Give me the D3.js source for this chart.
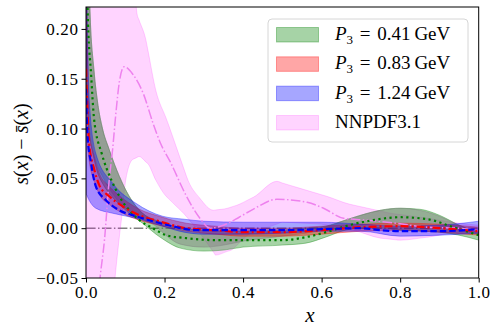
<!DOCTYPE html>
<html>
<head>
<meta charset="utf-8">
<script src="https://cdn.jsdelivr.net/npm/d3@7"></script>
<style>
  body { margin: 0; background: #fff; }
  svg text { font-family: "Liberation Serif", "Times New Roman", serif; fill: #000; }
</style>
</head>
<body>
<div id="chart"></div>
<script>
// P3 = 0.41 GeV (green)
var greenX     = [0, 0.004, 0.013, 0.021, 0.04, 0.065, 0.085, 0.11, 0.136, 0.17, 0.204, 0.255, 0.33, 0.4, 0.5, 0.56, 0.62, 0.67, 0.73, 0.8, 0.87, 0.935, 1.0];
var greenMid   = [0.30, 0.22, 0.154, 0.108, 0.075, 0.048, 0.032, 0.018, 0.008, 0.0, -0.007, -0.010, -0.012, -0.012, -0.012, -0.009, -0.003, 0.003, 0.008, 0.011, 0.009, 0.001, -0.007];
var greenBandX = [0, 0.01, 0.02, 0.03, 0.042, 0.059, 0.085, 0.11, 0.144, 0.178, 0.2, 0.24, 0.3, 0.35, 0.4, 0.5, 0.56, 0.61, 0.66, 0.7, 0.75, 0.8, 0.85, 0.9, 0.95, 1.0];
var greenHi    = [0.40, 0.22, 0.16, 0.125, 0.10, 0.079, 0.052, 0.032, 0.015, 0.008, 0.005, 0.0, -0.002, -0.003, -0.003, -0.002, 0.0, 0.002, 0.008, 0.013, 0.018, 0.020, 0.019, 0.013, 0.003, -0.005];
var greenLo    = [0.12, 0.09, 0.07, 0.055, 0.045, 0.035, 0.024, 0.015, 0.005, -0.006, -0.012, -0.020, -0.023, -0.022, -0.019, -0.017, -0.015, -0.009, -0.002, 0.0, 0.0, -0.002, -0.003, -0.004, -0.007, -0.012];
var grayHi     = [0.40, 0.22, 0.16, 0.125, 0.10, 0.079, 0.052, 0.032, 0.015, 0.007, 0.002, -0.003, -0.006, -0.006, -0.005, -0.004, -0.002, 0.001, 0.008, 0.013, 0.018, 0.020, 0.018, 0.012, 0.003, -0.004];
var grayLo     = [0.15, 0.10, 0.075, 0.062, 0.052, 0.040, 0.026, 0.017, 0.009, 0.002, -0.006, -0.016, -0.019, -0.017, -0.013, -0.008, -0.005, -0.002, 0.001, 0.003, 0.004, 0.004, 0.003, 0.0, -0.002, -0.006];

// P3 = 0.83 GeV (red)
var redX     = [0, 0.008, 0.021, 0.034, 0.059, 0.093, 0.136, 0.186, 0.255, 0.33, 0.4, 0.5, 0.6, 0.7, 0.8, 0.9, 1.0];
var redMid   = [0.16, 0.085, 0.059, 0.043, 0.032, 0.022, 0.013, 0.007, 0.0, -0.002, -0.004, -0.004, -0.002, 0.001, 0.002, 0.0, -0.003];
var redHi    = [0.30, 0.10, 0.072, 0.055, 0.042, 0.030, 0.019, 0.012, 0.005, 0.002, 0.0, 0.0, 0.002, 0.004, 0.005, 0.004, 0.001];
var redLo    = [0.10, 0.068, 0.047, 0.034, 0.024, 0.015, 0.008, 0.003, -0.003, -0.006, -0.008, -0.008, -0.006, -0.003, -0.002, -0.004, -0.007];

// P3 = 1.24 GeV (blue)
var blueX     = [0, 0.004, 0.013, 0.025, 0.051, 0.085, 0.127, 0.17, 0.22, 0.28, 0.4, 0.5, 0.6, 0.7, 0.75, 0.8, 0.9, 1.0];
var blueMid   = [0.14, 0.092, 0.065, 0.042, 0.028, 0.018, 0.012, 0.007, 0.002, -0.002, -0.002, -0.002, -0.001, 0.0, -0.002, -0.003, -0.003, -0.001];
var blueBandX = [0, 0.008, 0.025, 0.068, 0.127, 0.195, 0.25, 0.3, 0.4, 0.5, 0.6, 0.7, 0.8, 0.9, 1.0];
var blueHi    = [0.30, 0.13, 0.075, 0.045, 0.025, 0.012, 0.009, 0.007, 0.006, 0.006, 0.006, 0.004, 0.002, 0.003, 0.007];
var blueLo    = [0.035, 0.028, 0.020, 0.015, 0.010, 0.002, -0.004, -0.006, -0.006, -0.005, -0.003, -0.003, -0.008, -0.007, -0.005];

// NNPDF3.1 (violet)
var nnX      = [0.02, 0.036, 0.047, 0.059, 0.068, 0.076, 0.085, 0.097, 0.12, 0.146, 0.171, 0.19, 0.214, 0.256, 0.29, 0.316, 0.35, 0.39, 0.43, 0.486, 0.563, 0.605, 0.656, 0.715, 0.79, 0.868, 0.945, 1.0];
var nnMid    = [-0.12, -0.049, -0.012, 0.048, 0.08, 0.115, 0.147, 0.162, 0.154, 0.135, 0.105, 0.085, 0.067, 0.032, 0.01, 0.0, 0.003, 0.011, 0.02, 0.029, 0.026, 0.02, 0.010, 0.008, 0.005, 0.001, 0.0, -0.002];
var nnHiX    = [0, 0.12, 0.13, 0.153, 0.178, 0.21, 0.256, 0.29, 0.325, 0.36, 0.384, 0.426, 0.486, 0.545, 0.613, 0.672, 0.775, 0.868, 0.95, 1.0];
var nnHi     = [0.40, 0.26, 0.215, 0.188, 0.138, 0.104, 0.052, 0.03, 0.018, 0.02, 0.023, 0.031, 0.047, 0.040, 0.032, 0.024, 0.015, 0.010, 0.005, 0.003];
var nnLoX    = [0, 0.06, 0.074, 0.084, 0.093, 0.101, 0.119, 0.135, 0.157, 0.178, 0.204, 0.23, 0.255, 0.29, 0.33, 0.37, 0.42, 0.5, 0.6, 0.68, 0.75, 0.8, 0.87, 0.95, 1.0];
var nnLo     = [-0.30, -0.12, -0.05, -0.012, 0.018, 0.048, 0.069, 0.072, 0.065, 0.048, 0.032, 0.022, 0.012, -0.005, -0.027, -0.022, -0.005, 0.006, 0.004, -0.002, -0.010, -0.012, -0.009, -0.004, -0.004];

var xTicks = [0.0, 0.2, 0.4, 0.6, 0.8, 1.0];
var yTicks = [-0.05, 0.00, 0.05, 0.10, 0.15, 0.20];
var legendLabels = ['0.41', '0.83', '1.24'];

var W = 498, H = 334;
var serif = '"Liberation Serif", "Times New Roman", serif';
var svg = d3.select('#chart').append('svg').attr('width', W).attr('height', H);

var x = d3.scaleLinear().domain([0, 1]).range([86, 478.7]);
var y = d3.scaleLinear().domain([-0.05, 0.222]).range([278, 7]);

svg.append('clipPath').attr('id', 'plotclip')
  .append('rect').attr('x', 86).attr('y', 7).attr('width', 392.7).attr('height', 271);

var plot = svg.append('g').attr('clip-path', 'url(#plotclip)');

function zip(xs, a) { return xs.map(function (v, i) { return [v, a[i]]; }); }
function zip2(xs, a, b) { return xs.map(function (v, i) { return [v, a[i], b[i]]; }); }

function interpTo(xsSrc, ys, xsDst) {
  var f = d3.scaleLinear().domain(xsSrc).range(ys);
  return xsDst.map(function (v) { return f(v); });
}

var curve = d3.curveMonotoneX;
var area = d3.area().curve(curve)
  .x(function (d) { return x(d[0]); })
  .y0(function (d) { return y(d[1]); })
  .y1(function (d) { return y(d[2]); });
var line = d3.line().curve(curve)
  .x(function (d) { return x(d[0]); })
  .y(function (d) { return y(d[1]); });

// zero reference line
plot.append('line')
  .attr('x1', x(0)).attr('x2', x(1)).attr('y1', y(0)).attr('y2', y(0))
  .attr('stroke', '#808080').attr('stroke-width', 1.5)
  .attr('stroke-dasharray', '9.6,2.4,1.5,2.4');

function band(data, color, op) {
  plot.append('path').datum(data).attr('d', area)
    .attr('fill', color).attr('fill-opacity', op)
    .attr('stroke', color).attr('stroke-opacity', op).attr('stroke-width', 1);
}

// NNPDF band: upper and lower edges sampled on a common grid of their own points
var nnGrid = Array.from(new Set(nnHiX.concat(nnLoX))).sort(d3.ascending);
band(zip2(nnGrid, interpTo(nnLoX, nnLo, nnGrid), interpTo(nnHiX, nnHi, nnGrid)), '#ff00ff', 0.17);

band(zip2(greenBandX, greenLo, greenHi), '#008000', 0.35);
band(zip2(greenBandX, grayLo, grayHi), '#808080', 0.45);
band(zip2(redX, redLo, redHi), '#ff0000', 0.35);
band(zip2(blueBandX, blueLo, blueHi), '#0000ff', 0.35);

function curveLine(data, color, w, dash) {
  plot.append('path').datum(data).attr('d', line)
    .attr('fill', 'none').attr('stroke', color).attr('stroke-width', w)
    .attr('stroke-dasharray', dash);
}
curveLine(zip(nnX, nnMid), '#ee82ee', 1.5, '9.6,2.4,1.5,2.4');
curveLine(zip(greenX, greenMid), '#008000', 2.2, '2.2,3.4');
curveLine(zip(redX, redMid), '#ff0000', 2.2, '8,3,2,3');
curveLine(zip(blueX, blueMid), '#0000ff', 2.2, '6.5,3');

// axes
var xAxis = d3.axisBottom(x).tickValues(xTicks).tickSize(4.5).tickPadding(3)
  .tickFormat(d3.format('.1f'));
var yAxis = d3.axisLeft(y).tickValues(yTicks).tickSize(4.5).tickPadding(3)
  .tickFormat(function (d) { return d < 0 ? '\u2212' + d3.format('.2f')(-d) : d3.format('.2f')(d); });

var gx = svg.append('g').attr('transform', 'translate(0,278)').call(xAxis);
var gy = svg.append('g').attr('transform', 'translate(86,0)').call(yAxis);
[gx, gy].forEach(function (g) {
  g.attr('font-family', serif).attr('font-size', 17);
  g.select('.domain').remove();
  g.selectAll('line').attr('stroke', '#000').attr('stroke-width', 1);
  g.selectAll('text')
    .style('font-family', serif).style('font-size', '17px').style('letter-spacing', '0.6px')
    .attr('fill', '#000');
});

svg.append('rect').attr('x', 86).attr('y', 7).attr('width', 392.7).attr('height', 271)
  .attr('fill', 'none').attr('stroke', '#000').attr('stroke-width', 1);

// axis labels
svg.append('text').attr('x', 310).attr('y', 322).attr('text-anchor', 'middle')
  .attr('font-size', 21).attr('font-style', 'italic').text('x');

var yl = svg.append('text').attr('transform', 'translate(28,144) rotate(-90)')
  .attr('text-anchor', 'middle').attr('font-size', 20);
yl.append('tspan').attr('font-style', 'italic').text('s');
yl.append('tspan').text('(');
yl.append('tspan').attr('font-style', 'italic').text('x');
yl.append('tspan').text(') \u2212 ');
yl.append('tspan').attr('font-style', 'italic').text('s\u0304');
yl.append('tspan').text('(');
yl.append('tspan').attr('font-style', 'italic').text('x');
yl.append('tspan').text(')');

// legend
var leg = svg.append('g');
leg.append('rect').attr('x', 268).attr('y', 19).attr('width', 200).attr('height', 123)
  .attr('rx', 4).attr('fill', '#fff').attr('fill-opacity', 0.8)
  .attr('stroke', '#d6d6d6').attr('stroke-width', 1);

var legColors = ['#008000', '#ff0000', '#0000ff', '#ff00ff'];
var legOps = [0.35, 0.35, 0.35, 0.17];
var legY = d3.scalePoint().domain(d3.range(4)).range([27, 115]);

d3.range(4).forEach(function (i) {
  leg.append('rect').attr('x', 276.5).attr('y', legY(i) + 0.5).attr('width', 42).attr('height', 14.5)
    .attr('fill', legColors[i]).attr('fill-opacity', legOps[i])
    .attr('stroke', legColors[i]).attr('stroke-opacity', legOps[i]);
  var t = leg.append('text').attr('x', 335).attr('y', legY(i) + 13)
    .style('font-size', '19px');
  if (i < 3) {
    t.append('tspan').attr('font-style', 'italic').text('P');
    t.append('tspan').style('font-size', '13px').attr('dy', 4).text('3');
    t.append('tspan').attr('dy', -4).style('word-spacing', '2px')
      .text(' = ' + legendLabels[i] + '\u2009GeV');
  } else {
    t.text('NNPDF3.1');
  }
});
</script>
</body>
</html>
